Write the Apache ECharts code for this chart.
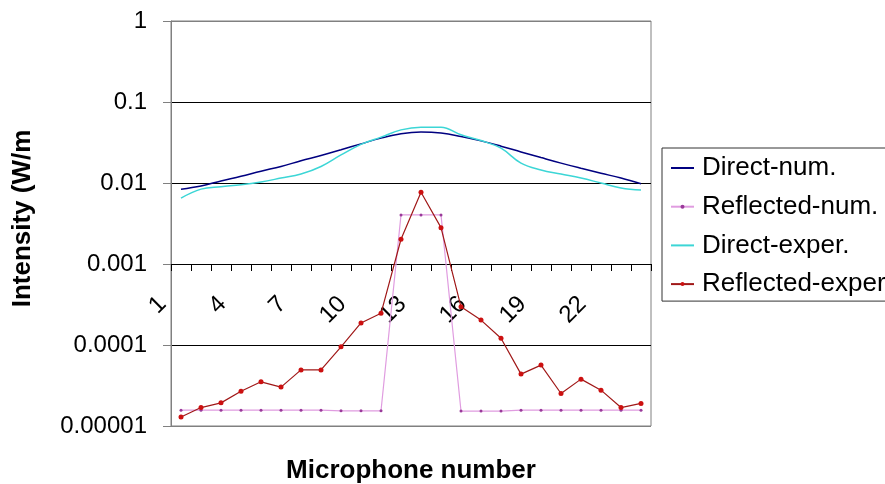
<!DOCTYPE html>
<html>
<head>
<meta charset="utf-8">
<script src="https://cdn.jsdelivr.net/npm/echarts@6/dist/echarts.min.js"></script>
<style>
html,body{margin:0;padding:0;background:#fff;}
#chart{width:885px;height:484px;}
</style>
</head>
<body>
<div id="chart"></div>
<script>
const categories = ['1','2','3','4','5','6','7','8','9','10','11','12','13','14','15','16','17','18','19','20','21','22','23','24'];
const yTickLabels = ['0.00001','0.0001','0.001','0.01','0.1','1'];
const directNum = [0.0084, 0.0092, 0.0106, 0.0121, 0.0140, 0.0160, 0.0188, 0.0218, 0.0257, 0.0304, 0.0358, 0.0405, 0.0425, 0.0413, 0.0375, 0.0331, 0.0285, 0.0242, 0.0206, 0.0176, 0.0152, 0.0132, 0.0115, 0.0098];
const reflectedNum = [1.57e-5, 1.57e-5, 1.57e-5, 1.57e-5, 1.57e-5, 1.57e-5, 1.57e-5, 1.57e-5, 1.54e-5, 1.54e-5, 1.54e-5, 4.04e-3, 4.04e-3, 4.04e-3, 1.53e-5, 1.53e-5, 1.53e-5, 1.57e-5, 1.57e-5, 1.57e-5, 1.57e-5, 1.57e-5, 1.57e-5, 1.57e-5];
const directExper = [0.0065, 0.0084, 0.0090, 0.0095, 0.0103, 0.0115, 0.0129, 0.0160, 0.0222, 0.0300, 0.0368, 0.0453, 0.0489, 0.0489, 0.0394, 0.0334, 0.0269, 0.0176, 0.0145, 0.0129, 0.0115, 0.0100, 0.0087, 0.0082];
const reflectedExper = [1.29e-5, 1.69e-5, 1.93e-5, 2.69e-5, 3.51e-5, 3.02e-5, 4.93e-5, 4.93e-5, 9.5e-5, 1.87e-4, 2.46e-4, 2.02e-3, 7.69e-3, 2.81e-3, 2.96e-4, 2.03e-4, 1.21e-4, 4.37e-5, 5.65e-5, 2.52e-5, 3.79e-5, 2.77e-5, 1.69e-5, 1.90e-5];

const FONT = "'Liberation Sans', Arial, sans-serif";
const chart = echarts.init(document.getElementById('chart'), null, {renderer: 'canvas'});
chart.setOption({
  animation: false,
  backgroundColor: '#ffffff',
  textStyle: {fontFamily: FONT, color: '#000'},
  grid: {
    left: 171, top: 21, width: 480, height: 405,
    containLabel: false, outerBoundsMode: 'none',
    show: true, borderColor: '#808080', borderWidth: 1, backgroundColor: 'transparent'
  },
  legend: {
    orient: 'vertical',
    left: 662, top: 148,
    padding: [5, 30, 2, 8],
    itemGap: 8.7,
    itemWidth: 23,
    itemHeight: 5,
    borderColor: '#333', borderWidth: 1,
    textStyle: {fontFamily: FONT, fontSize: 26, color: '#000', lineHeight: 30, padding: [0, 0, 0, 3]},
    data: [
      {name: 'Direct-num.', itemStyle: {opacity: 0}},
      {name: 'Reflected-num.'},
      {name: 'Direct-exper.', itemStyle: {opacity: 0}},
      {name: 'Reflected-exper'}
    ]
  },
  xAxis: {
    type: 'category',
    data: categories,
    boundaryGap: true,
    position: 'bottom',
    offset: -162,
    name: 'Microphone number',
    nameLocation: 'middle',
    nameGap: 194,
    nameTextStyle: {fontFamily: FONT, fontSize: 26, fontWeight: 'bold', color: '#000'},
    axisLine: {show: true, lineStyle: {color: '#000', width: 1}},
    axisTick: {show: true, interval: 0, length: 7, lineStyle: {color: '#000'}},
    axisLabel: {
      interval: 2, rotate: 45, margin: 18,
      fontFamily: FONT, fontSize: 24, color: '#000',
      padding: [0, 26, 0, 0]
    },
    splitLine: {show: false}
  },
  yAxis: {
    type: 'log',
    logBase: 10,
    min: 0.00001,
    max: 1,
    interval: 1,
    name: 'Intensity (W/m',
    nameLocation: 'middle',
    nameRotate: 90,
    nameGap: 135,
    nameTextStyle: {fontFamily: FONT, fontSize: 26, fontWeight: 'bold', color: '#000', padding: [0, 0, 0, 10]},
    axisLine: {show: true, lineStyle: {color: '#808080', width: 1}},
    axisTick: {show: true, length: 8, lineStyle: {color: '#808080'}},
    axisLabel: {
      margin: 24, fontFamily: FONT, fontSize: 24, color: '#000',
      formatter: function (v) {
        const i = Math.round(Math.log10(v)) + 5;
        return yTickLabels[i] !== undefined ? yTickLabels[i] : '';
      }
    },
    splitLine: {show: true, lineStyle: {color: ['#808080', '#000', '#000', '#000', '#000', '#808080'], width: 1}}
  },
  series: [
    {
      name: 'Direct-num.', type: 'line', data: directNum, smooth: 0.4,
      symbol: 'none', lineStyle: {color: '#000080', width: 1.5}, itemStyle: {color: '#000080'}, z: 3
    },
    {
      name: 'Reflected-num.', type: 'line', data: reflectedNum,
      symbol: 'circle', symbolSize: 3, showAllSymbol: true,
      lineStyle: {color: '#e09ce0', width: 1.2}, itemStyle: {color: '#9a3a9a'}, z: 2
    },
    {
      name: 'Direct-exper.', type: 'line', data: directExper, smooth: 0.4,
      symbol: 'none', lineStyle: {color: '#3cd6d6', width: 1.5}, itemStyle: {color: '#3cd6d6'}, z: 3
    },
    {
      name: 'Reflected-exper', type: 'line', data: reflectedExper,
      symbol: 'circle', symbolSize: 5, showAllSymbol: true,
      lineStyle: {color: '#a01818', width: 1.2}, itemStyle: {color: '#cc1010'}, z: 4
    }
  ]
});
</script>
</body>
</html>
